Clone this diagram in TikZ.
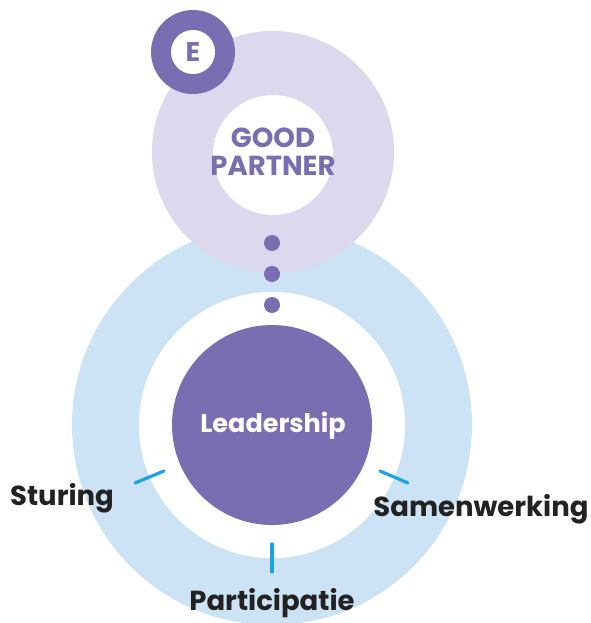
\documentclass[tikz,border=0pt]{standalone}
\usepackage{fontspec}
\setmainfont{Poppins}
\definecolor{gpurple}{HTML}{7B6DB1}
\definecolor{glav}{HTML}{DCD8EE}
\definecolor{gblue}{HTML}{CCE3F6}
\definecolor{gtick}{HTML}{1AA3E0}
\definecolor{gdark}{HTML}{222222}
\tikzset{
  disc/.style={circle, inner sep=0pt, draw=none},
  dotnode/.style={disc, fill=gpurple, minimum size=16pt},
  tickline/.style={draw=gtick, line width=3.2pt, line cap=round},
  lbl/.style={font=\fontsize{27.5}{32}\selectfont\bfseries, text=gdark, anchor=base, inner sep=0pt},
  gptxt/.style={font=\fontsize{27.5}{30}\selectfont\bfseries, text=gpurple, anchor=base, inner sep=0pt},
}
\begin{document}
\begin{tikzpicture}[x=1pt,y=-1pt]
\useasboundingbox (0,0) rectangle (590,623);
\fill[white] (0,0) rectangle (590,623);
% blue ring
\node[disc, fill=gblue, minimum size=400pt] (ring) at (272,425) {};
\node[disc, fill=white, minimum size=266pt] (ringin) at (272,425) {};
% lavender ring
\node[disc, fill=glav, minimum size=242pt] (lav) at (273,152) {};
\node[disc, fill=white, minimum size=120pt] (lavin) at (273,155) {};
% badge
\node[disc, fill=gpurple, minimum size=84pt] (badge) at (193,52) {};
\node[disc, fill=white, minimum size=44pt, font=\fontsize{27}{30}\selectfont\bfseries, text=gpurple] (badgein) at (193,52) {E};
% good partner text
\node[gptxt] (good) at (273,147) {GOOD};
\node[gptxt] (partner) at (273,175) {PARTNER};
% dots
\node[dotnode] (d1) at (272,243) {};
\node[dotnode] (d2) at (272,274) {};
\node[dotnode] (d3) at (272,305) {};
% leadership
\node[disc, fill=gpurple, minimum size=200pt] (lead) at (272,425) {};
\node[font=\fontsize{25.5}{30}\selectfont\bfseries, text=white, anchor=base, inner sep=0pt] (leadtxt) at (273,432) {Leadership};
% ticks
\coordinate (t1a) at (135,483); \coordinate (t1b) at (164,471);
\coordinate (t2a) at (272,544); \coordinate (t2b) at (272,572);
\coordinate (t3a) at (380,471); \coordinate (t3b) at (408,483);
\draw[tickline] (t1a) -- (t1b);
\draw[tickline] (t2a) -- (t2b);
\draw[tickline] (t3a) -- (t3b);
% labels
\node[lbl] (sturing) at (62,505) {Sturing};
\node[lbl] (samen) at (481,516) {Samenwerking};
\node[lbl] (partic) at (272,610) {Participatie};
\end{tikzpicture}
\end{document}
